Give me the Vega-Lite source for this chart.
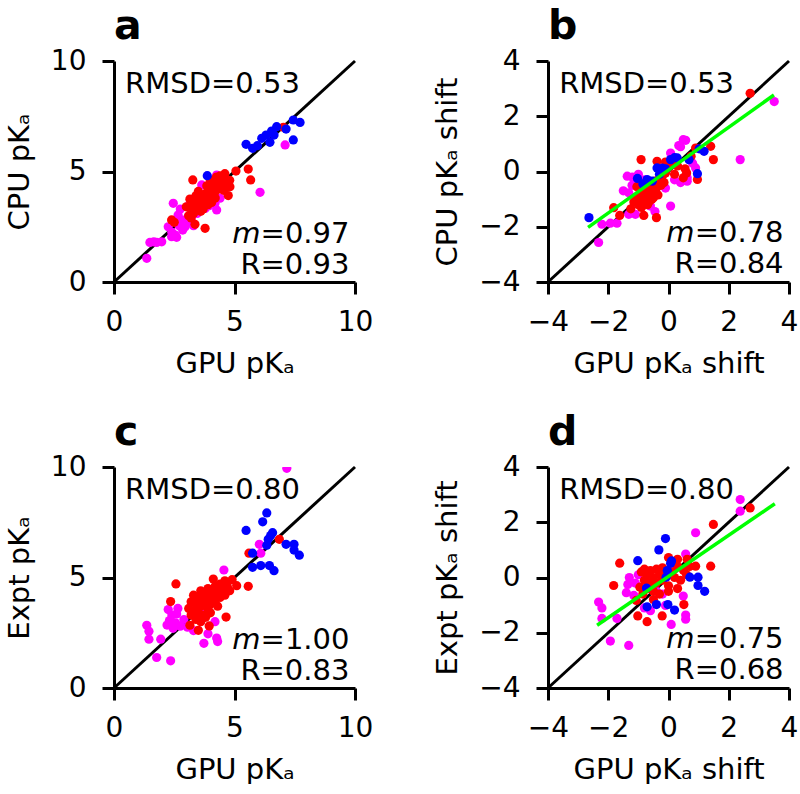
{
  "$schema": "https://vega.github.io/schema/vega-lite/v6.json",
  "padding": {"left": 5, "top": 6, "right": 0, "bottom": 0},
  "config": {
    "font": "DejaVu Sans",
    "view": {"stroke": null},
    "axis": {"domainColor": "black", "domainWidth": 3, "tickColor": "black", "tickWidth": 3, "tickSize": 12, "labelFontSize": 28, "labelColor": "black", "labelPadding": 14, "labelFlush": false, "labelOverlap": false, "labelBound": false, "titleFontSize": 29, "titleFontWeight": "normal", "titleColor": "black", "grid": false},
    "axisX": {"titlePadding": 13},
    "axisY": {"titlePadding": 16, "labelPadding": 16},
    "title": {"anchor": "start", "frame": "group", "fontSize": 41, "fontWeight": "bold", "color": "black", "baseline": "alphabetic", "offset": -1}
  },
  "datasets": {
    "pa": [
      {"x":1.36,"y":1.07,"g":"m"},{"x":1.49,"y":1.79,"g":"m"},{"x":1.65,"y":1.82,"g":"m"},{"x":1.77,"y":1.79,"g":"m"},{"x":1.98,"y":1.82,"g":"m"},{"x":2.39,"y":2.05,"g":"m"},{"x":2.55,"y":2.12,"g":"m"},{"x":2.6,"y":2.02,"g":"m"},{"x":2.46,"y":3.56,"g":"m"},{"x":2.95,"y":2.5,"g":"m"},{"x":2.8,"y":2.81,"g":"m"},{"x":2.66,"y":3.03,"g":"m"},{"x":3.08,"y":2.96,"g":"m"},{"x":3.12,"y":3.48,"g":"m"},{"x":3.57,"y":3.48,"g":"m"},{"x":3.5,"y":3.97,"g":"m"},{"x":3.64,"y":4.39,"g":"m"},{"x":4.26,"y":4.84,"g":"m"},{"x":4.19,"y":3.56,"g":"m"},{"x":4.26,"y":3.26,"g":"m"},{"x":4.4,"y":3.79,"g":"m"},{"x":3.78,"y":3.33,"g":"m"},{"x":6.06,"y":4.06,"g":"m"},{"x":7.1,"y":6.2,"g":"m"},{"x":3.01,"y":2.74,"g":"m"},{"x":2.75,"y":3.3,"g":"m"},{"x":3.3,"y":2.55,"g":"m"},{"x":2.85,"y":2.35,"g":"m"},{"x":3.45,"y":3.1,"g":"m"},{"x":2.4,"y":2.25,"g":"m"},{"x":3.95,"y":3.45,"g":"m"},{"x":4.05,"y":3.75,"g":"m"},{"x":3.2,"y":2.8,"g":"m"},{"x":2.25,"y":2.5,"g":"m"},{"x":4.5,"y":4.2,"g":"m"},{"x":2.7,"y":2.55,"g":"m"},
      {"x":3.27,"y":4.62,"g":"r"},{"x":5.06,"y":5.02,"g":"r"},{"x":5.57,"y":5.11,"g":"r"},{"x":5.67,"y":4.62,"g":"r"},{"x":4.81,"y":4.31,"g":"r"},{"x":4.74,"y":3.91,"g":"r"},{"x":3.78,"y":2.43,"g":"r"},{"x":3.36,"y":2.61,"g":"r"},{"x":2.39,"y":2.81,"g":"r"},{"x":2.5,"y":2.7,"g":"r"},{"x":7.03,"y":7.0,"g":"r"},{"x":4.7,"y":4.6,"g":"r"},{"x":4.55,"y":4.15,"g":"r"},
      {"x":3.1,"y":3.0,"g":"r"},{"x":3.2,"y":3.3,"g":"r"},{"x":3.3,"y":3.1,"g":"r"},{"x":3.4,"y":3.5,"g":"r"},{"x":3.5,"y":3.3,"g":"r"},{"x":3.5,"y":3.7,"g":"r"},{"x":3.6,"y":3.5,"g":"r"},{"x":3.6,"y":3.9,"g":"r"},{"x":3.7,"y":3.6,"g":"r"},{"x":3.7,"y":3.8,"g":"r"},{"x":3.8,"y":4.0,"g":"r"},{"x":3.8,"y":3.7,"g":"r"},{"x":3.9,"y":4.1,"g":"r"},{"x":3.9,"y":3.9,"g":"r"},{"x":4.0,"y":4.2,"g":"r"},{"x":4.0,"y":3.9,"g":"r"},{"x":4.1,"y":4.3,"g":"r"},{"x":4.1,"y":4.0,"g":"r"},{"x":4.2,"y":4.4,"g":"r"},{"x":4.2,"y":4.1,"g":"r"},{"x":4.3,"y":4.5,"g":"r"},{"x":4.3,"y":4.2,"g":"r"},{"x":4.4,"y":4.6,"g":"r"},{"x":4.4,"y":4.3,"g":"r"},{"x":4.5,"y":4.7,"g":"r"},{"x":4.5,"y":4.4,"g":"r"},{"x":4.6,"y":4.5,"g":"r"},{"x":3.4,"y":3.9,"g":"r"},{"x":3.3,"y":3.6,"g":"r"},{"x":3.0,"y":3.4,"g":"r"},{"x":3.6,"y":3.2,"g":"r"},{"x":3.9,"y":3.5,"g":"r"},{"x":4.0,"y":4.6,"g":"r"},{"x":4.2,"y":3.8,"g":"r"},{"x":3.5,"y":4.1,"g":"r"},{"x":4.6,"y":4.9,"g":"r"},{"x":3.2,"y":2.9,"g":"r"},{"x":3.7,"y":3.3,"g":"r"},{"x":4.4,"y":4.8,"g":"r"},{"x":4.8,"y":4.6,"g":"r"},{"x":3.15,"y":3.75,"g":"r"},{"x":4.25,"y":4.75,"g":"r"},{"x":3.85,"y":4.35,"g":"r"},{"x":4.05,"y":3.6,"g":"r"},
      {"x":7.44,"y":7.33,"g":"b"},{"x":7.72,"y":7.22,"g":"b"},{"x":7.14,"y":6.92,"g":"b"},{"x":6.75,"y":7.03,"g":"b"},{"x":6.54,"y":6.83,"g":"b"},{"x":6.31,"y":6.65,"g":"b"},{"x":6.13,"y":6.5,"g":"b"},{"x":6.47,"y":6.32,"g":"b"},{"x":5.95,"y":6.17,"g":"b"},{"x":5.75,"y":6.05,"g":"b"},{"x":5.48,"y":6.23,"g":"b"},{"x":7.44,"y":6.43,"g":"b"},{"x":3.87,"y":4.81,"g":"b"},{"x":6.64,"y":6.65,"g":"b"}
    ],
    "pb": [
      {"x":3.51,"y":2.53,"g":"m"},{"x":2.38,"y":0.43,"g":"m"},{"x":0.57,"y":1.13,"g":"m"},{"x":0.34,"y":0.94,"g":"m"},{"x":0.49,"y":1.15,"g":"m"},{"x":0.07,"y":0.67,"g":"m"},{"x":-2.32,"y":-2.57,"g":"m"},{"x":-2.21,"y":-1.91,"g":"m"},{"x":-1.93,"y":-1.87,"g":"m"},{"x":-1.71,"y":-1.87,"g":"m"},{"x":-1.32,"y":-1.55,"g":"m"},{"x":-1.1,"y":-1.55,"g":"m"},{"x":-1.32,"y":-0.77,"g":"m"},{"x":-1.37,"y":-0.17,"g":"m"},{"x":-1.2,"y":-0.2,"g":"m"},{"x":-1.21,"y":-0.5,"g":"m"},{"x":0.07,"y":-1.25,"g":"m"},{"x":0.62,"y":-0.35,"g":"m"},{"x":0.62,"y":-0.23,"g":"m"},{"x":0.9,"y":0.13,"g":"m"},{"x":-0.6,"y":-1.25,"g":"m"},{"x":-0.1,"y":-0.6,"g":"m"},{"x":0.2,"y":-0.3,"g":"m"},{"x":0.4,"y":-0.4,"g":"m"},{"x":-0.8,"y":-0.3,"g":"m"},{"x":-1.0,"y":-0.1,"g":"m"},{"x":-0.45,"y":-1.45,"g":"m"},{"x":0.4,"y":0.9,"g":"m"},{"x":0.8,"y":0.3,"g":"m"},{"x":-1.5,"y":-0.7,"g":"m"},
      {"x":2.71,"y":2.83,"g":"r"},{"x":-0.91,"y":0.43,"g":"r"},{"x":1.49,"y":0.43,"g":"r"},{"x":1.4,"y":0.91,"g":"r"},{"x":0.9,"y":0.85,"g":"r"},{"x":-1.82,"y":-1.31,"g":"r"},{"x":-1.62,"y":-1.59,"g":"r"},{"x":-0.82,"y":-1.59,"g":"r"},{"x":-0.4,"y":-1.67,"g":"r"},{"x":0.49,"y":-0.23,"g":"r"},{"x":0.6,"y":-0.05,"g":"r"},{"x":0.96,"y":-0.29,"g":"r"},{"x":-0.1,"y":0.34,"g":"r"},{"x":-0.38,"y":0.37,"g":"r"},{"x":0.3,"y":0.2,"g":"r"},{"x":0.55,"y":0.1,"g":"r"},{"x":0.75,"y":0.55,"g":"r"},
      {"x":-1.15,"y":-1.1,"g":"r"},{"x":-1.05,"y":-0.95,"g":"r"},{"x":-1.0,"y":-1.2,"g":"r"},{"x":-0.95,"y":-0.8,"g":"r"},{"x":-0.9,"y":-1.05,"g":"r"},{"x":-0.85,"y":-0.65,"g":"r"},{"x":-0.8,"y":-0.9,"g":"r"},{"x":-0.75,"y":-0.55,"g":"r"},{"x":-0.7,"y":-0.8,"g":"r"},{"x":-0.65,"y":-1.1,"g":"r"},{"x":-0.6,"y":-0.45,"g":"r"},{"x":-0.55,"y":-0.7,"g":"r"},{"x":-0.5,"y":-0.95,"g":"r"},{"x":-0.45,"y":-0.35,"g":"r"},{"x":-0.4,"y":-0.6,"g":"r"},{"x":-0.35,"y":-0.85,"g":"r"},{"x":-0.3,"y":-0.25,"g":"r"},{"x":-0.25,"y":-0.5,"g":"r"},{"x":-0.2,"y":-0.15,"g":"r"},{"x":-0.15,"y":-0.4,"g":"r"},{"x":-0.1,"y":-0.05,"g":"r"},{"x":0.0,"y":0.15,"g":"r"},{"x":-1.25,"y":-1.35,"g":"r"},{"x":-0.9,"y":-1.3,"g":"r"},{"x":-0.7,"y":-1.2,"g":"r"},{"x":-0.55,"y":-1.0,"g":"r"},{"x":0.1,"y":0.25,"g":"r"},{"x":0.2,"y":-0.1,"g":"r"},{"x":-1.05,"y":-0.55,"g":"r"},
      {"x":-2.64,"y":-1.67,"g":"b"},{"x":-1.03,"y":-0.25,"g":"b"},{"x":-0.71,"y":-0.29,"g":"b"},{"x":-0.54,"y":-0.35,"g":"b"},{"x":-0.38,"y":0.13,"g":"b"},{"x":-0.2,"y":0.12,"g":"b"},{"x":-0.1,"y":0.1,"g":"b"},{"x":0.07,"y":0.43,"g":"b"},{"x":0.2,"y":0.5,"g":"b"},{"x":0.29,"y":0.49,"g":"b"},{"x":0.68,"y":0.43,"g":"b"},{"x":1.18,"y":0.73,"g":"b"},{"x":0.96,"y":-0.08,"g":"b"},{"x":1.02,"y":0.82,"g":"b"},{"x":-0.85,"y":-0.45,"g":"b"},{"x":-0.3,"y":-0.1,"g":"b"}
    ],
    "pc": [
      {"x":7.17,"y":9.94,"g":"m"},{"x":6.09,"y":6.1,"g":"m"},{"x":6.03,"y":6.5,"g":"m"},{"x":4.56,"y":5.34,"g":"m"},{"x":1.36,"y":2.84,"g":"m"},{"x":1.45,"y":2.57,"g":"m"},{"x":1.45,"y":2.21,"g":"m"},{"x":1.94,"y":2.21,"g":"m"},{"x":1.77,"y":1.38,"g":"m"},{"x":2.35,"y":1.23,"g":"m"},{"x":3.73,"y":2.02,"g":"m"},{"x":4.26,"y":2.26,"g":"m"},{"x":4.19,"y":3.0,"g":"m"},{"x":2.25,"y":3.55,"g":"m"},{"x":2.4,"y":3.3,"g":"m"},{"x":2.6,"y":3.35,"g":"m"},{"x":2.3,"y":3.05,"g":"m"},{"x":2.55,"y":2.95,"g":"m"},{"x":2.75,"y":2.8,"g":"m"},{"x":2.45,"y":2.7,"g":"m"},{"x":2.9,"y":3.1,"g":"m"},{"x":3.05,"y":2.75,"g":"m"},{"x":2.65,"y":3.6,"g":"m"},{"x":3.4,"y":3.25,"g":"m"},{"x":3.3,"y":2.6,"g":"m"},{"x":3.9,"y":2.45,"g":"m"},{"x":2.2,"y":2.85,"g":"m"},{"x":4.3,"y":2.1,"g":"m"},{"x":3.75,"y":3.5,"g":"m"},
      {"x":2.57,"y":4.71,"g":"r"},{"x":2.35,"y":3.91,"g":"r"},{"x":6.86,"y":6.73,"g":"r"},{"x":5.6,"y":6.1,"g":"r"},{"x":5.57,"y":4.6,"g":"r"},{"x":4.65,"y":3.21,"g":"r"},{"x":3.95,"y":2.81,"g":"r"},{"x":3.5,"y":2.61,"g":"r"},{"x":3.15,"y":2.84,"g":"r"},{"x":5.09,"y":4.63,"g":"r"},{"x":4.12,"y":4.93,"g":"r"},{"x":4.9,"y":4.9,"g":"r"},{"x":4.6,"y":4.85,"g":"r"},
      {"x":3.1,"y":3.6,"g":"r"},{"x":3.2,"y":3.9,"g":"r"},{"x":3.3,"y":4.2,"g":"r"},{"x":3.3,"y":3.5,"g":"r"},{"x":3.4,"y":3.8,"g":"r"},{"x":3.5,"y":4.1,"g":"r"},{"x":3.5,"y":3.4,"g":"r"},{"x":3.6,"y":3.7,"g":"r"},{"x":3.6,"y":4.4,"g":"r"},{"x":3.7,"y":4.0,"g":"r"},{"x":3.7,"y":3.3,"g":"r"},{"x":3.8,"y":3.9,"g":"r"},{"x":3.8,"y":4.3,"g":"r"},{"x":3.9,"y":3.6,"g":"r"},{"x":3.9,"y":4.5,"g":"r"},{"x":4.0,"y":4.1,"g":"r"},{"x":4.0,"y":3.8,"g":"r"},{"x":4.1,"y":4.4,"g":"r"},{"x":4.2,"y":4.0,"g":"r"},{"x":4.2,"y":4.6,"g":"r"},{"x":4.3,"y":4.3,"g":"r"},{"x":4.4,"y":4.7,"g":"r"},{"x":4.4,"y":4.1,"g":"r"},{"x":4.5,"y":4.5,"g":"r"},{"x":4.6,"y":4.2,"g":"r"},{"x":4.7,"y":4.6,"g":"r"},{"x":4.8,"y":4.4,"g":"r"},{"x":3.4,"y":3.1,"g":"r"},{"x":3.2,"y":3.3,"g":"r"},{"x":3.6,"y":3.0,"g":"r"},{"x":4.0,"y":3.4,"g":"r"},{"x":3.8,"y":3.2,"g":"r"},{"x":4.3,"y":3.7,"g":"r"},
      {"x":6.34,"y":7.92,"g":"b"},{"x":6.17,"y":7.52,"g":"b"},{"x":5.48,"y":7.13,"g":"b"},{"x":6.58,"y":7.03,"g":"b"},{"x":6.4,"y":6.73,"g":"b"},{"x":6.34,"y":6.46,"g":"b"},{"x":7.14,"y":6.5,"g":"b"},{"x":7.47,"y":6.5,"g":"b"},{"x":7.47,"y":6.24,"g":"b"},{"x":7.69,"y":6.01,"g":"b"},{"x":5.75,"y":6.1,"g":"b"},{"x":5.75,"y":5.46,"g":"b"},{"x":6.09,"y":5.54,"g":"b"},{"x":6.45,"y":5.54,"g":"b"},{"x":6.64,"y":5.31,"g":"b"},{"x":6.5,"y":6.9,"g":"b"}
    ],
    "pd": [
      {"x":2.38,"y":2.82,"g":"m"},{"x":2.38,"y":2.4,"g":"m"},{"x":0.9,"y":1.62,"g":"m"},{"x":0.57,"y":0.85,"g":"m"},{"x":-2.32,"y":-0.89,"g":"m"},{"x":-2.21,"y":-1.1,"g":"m"},{"x":-2.21,"y":-1.48,"g":"m"},{"x":-1.71,"y":-1.48,"g":"m"},{"x":-1.93,"y":-2.3,"g":"m"},{"x":-1.32,"y":-2.46,"g":"m"},{"x":-1.3,"y":0.0,"g":"m"},{"x":-1.35,"y":-0.25,"g":"m"},{"x":-1.4,"y":-0.55,"g":"m"},{"x":-1.15,"y":-0.65,"g":"m"},{"x":0.49,"y":-0.67,"g":"m"},{"x":0.57,"y":-1.36,"g":"m"},{"x":0.57,"y":-1.51,"g":"m"},{"x":0.09,"y":-1.7,"g":"m"},{"x":-0.1,"y":-1.01,"g":"m"},{"x":-0.4,"y":-0.5,"g":"m"},{"x":-1.1,"y":-0.2,"g":"m"},{"x":-0.2,"y":-0.6,"g":"m"},{"x":-0.8,"y":-1.1,"g":"m"},{"x":-0.6,"y":-1.2,"g":"m"},{"x":0.2,"y":0.3,"g":"m"},{"x":-1.0,"y":0.1,"g":"m"},
      {"x":2.71,"y":2.52,"g":"r"},{"x":1.49,"y":1.92,"g":"r"},{"x":-1.62,"y":0.52,"g":"r"},{"x":-1.82,"y":-0.29,"g":"r"},{"x":-1.02,"y":-1.39,"g":"r"},{"x":-0.71,"y":-1.6,"g":"r"},{"x":-0.21,"y":-1.39,"g":"r"},{"x":0.51,"y":-0.98,"g":"r"},{"x":1.4,"y":0.41,"g":"r"},{"x":0.9,"y":0.41,"g":"r"},{"x":0.0,"y":0.72,"g":"r"},{"x":0.3,"y":0.66,"g":"r"},{"x":0.62,"y":0.66,"g":"r"},{"x":-1.07,"y":-0.83,"g":"r"},
      {"x":-0.9,"y":0.2,"g":"r"},{"x":-0.8,"y":-0.1,"g":"r"},{"x":-0.8,"y":0.3,"g":"r"},{"x":-0.7,"y":0.1,"g":"r"},{"x":-0.7,"y":-0.4,"g":"r"},{"x":-0.6,"y":0.25,"g":"r"},{"x":-0.6,"y":-0.2,"g":"r"},{"x":-0.5,"y":0.0,"g":"r"},{"x":-0.5,"y":-0.5,"g":"r"},{"x":-0.4,"y":0.3,"g":"r"},{"x":-0.4,"y":-0.2,"g":"r"},{"x":-0.3,"y":0.1,"g":"r"},{"x":-0.3,"y":-0.6,"g":"r"},{"x":-0.2,"y":0.35,"g":"r"},{"x":-0.2,"y":-0.1,"g":"r"},{"x":-0.1,"y":0.05,"g":"r"},{"x":0.0,"y":-0.3,"g":"r"},{"x":0.1,"y":0.2,"g":"r"},{"x":0.2,"y":0.0,"g":"r"},{"x":0.3,"y":0.4,"g":"r"},{"x":0.4,"y":-0.1,"g":"r"},{"x":0.5,"y":0.25,"g":"r"},{"x":0.6,"y":0.1,"g":"r"},{"x":0.7,"y":0.4,"g":"r"},{"x":-0.85,"y":-0.6,"g":"r"},{"x":0.0,"y":-0.5,"g":"r"},{"x":0.3,"y":-0.4,"g":"r"},{"x":-0.5,"y":-0.8,"g":"r"},{"x":-0.95,"y":-0.35,"g":"r"},
      {"x":-0.1,"y":1.41,"g":"b"},{"x":-0.32,"y":1.0,"g":"b"},{"x":-1.02,"y":0.61,"g":"b"},{"x":0.07,"y":0.52,"g":"b"},{"x":-0.04,"y":0.25,"g":"b"},{"x":-0.08,"y":0.01,"g":"b"},{"x":0.71,"y":0.01,"g":"b"},{"x":0.98,"y":0.01,"g":"b"},{"x":0.98,"y":-0.29,"g":"b"},{"x":1.2,"y":-0.5,"g":"b"},{"x":-0.73,"y":-0.38,"g":"b"},{"x":-0.71,"y":-1.06,"g":"b"},{"x":-0.4,"y":-0.98,"g":"b"},{"x":-0.02,"y":-0.98,"g":"b"},{"x":0.2,"y":-1.18,"g":"b"},{"x":0.1,"y":0.6,"g":"b"}
    ]
  },
  "columns": 2,
  "spacing": {"row": 185, "column": 193},
  "bounds": "flush",
  "concat": [
    {
      "width": 241, "height": 221,
      "title": {"text": "a"},
      "layer": [
        {"data": {"values": [{}]}, "mark": {"type": "rule", "color": "black", "strokeWidth": 3},
         "encoding": {"x": {"datum": 0, "type": "quantitative", "scale": {"domain": [0, 10], "nice": false, "zero": false}, "axis": {"values": [0, 5, 10], "title": "GPU pKₐ"}}, "y": {"datum": 0, "type": "quantitative", "scale": {"domain": [0, 10], "nice": false, "zero": false}, "axis": {"values": [0, 5, 10], "title": "CPU pKₐ"}}, "x2": {"datum": 10}, "y2": {"datum": 10}}},
        {"data": {"name": "pa"}, "mark": {"type": "circle", "size": 85, "opacity": 1, "clip": true},
         "encoding": {
           "x": {"field": "x", "type": "quantitative", "axis": {"values": [0, 5, 10], "title": "GPU pKₐ"}},
           "y": {"field": "y", "type": "quantitative", "axis": {"values": [0, 5, 10], "title": "CPU pKₐ"}},
           "color": {"field": "g", "type": "nominal", "scale": {"domain": ["m", "r", "b"], "range": ["#ff00ff", "#ff0000", "#0000ff"]}, "legend": null}}},
        {"data": {"values": [{}]}, "mark": {"type": "text", "text": "RMSD=0.53", "align": "left", "baseline": "alphabetic", "fontSize": 29, "color": "black"},
         "encoding": {"x": {"datum": 0.46, "type": "quantitative", "axis": {"values": [0, 5, 10], "title": "GPU pKₐ"}}, "y": {"datum": 8.55, "type": "quantitative", "axis": {"values": [0, 5, 10], "title": "CPU pKₐ"}}}},
        {"data": {"values": [{}]}, "mark": {"type": "text", "text": "=0.97", "align": "right", "baseline": "alphabetic", "fontSize": 29, "color": "black"},
         "encoding": {"x": {"datum": 9.77, "type": "quantitative", "axis": {"values": [0, 5, 10], "title": "GPU pKₐ"}}, "y": {"datum": 1.76, "type": "quantitative", "axis": {"values": [0, 5, 10], "title": "CPU pKₐ"}}}},
        {"data": {"values": [{}]}, "mark": {"type": "text", "text": "m", "align": "right", "baseline": "alphabetic", "fontSize": 29, "fontStyle": "italic", "dx": -89, "color": "black"},
         "encoding": {"x": {"datum": 9.77, "type": "quantitative", "axis": {"values": [0, 5, 10], "title": "GPU pKₐ"}}, "y": {"datum": 1.76, "type": "quantitative", "axis": {"values": [0, 5, 10], "title": "CPU pKₐ"}}}},
        {"data": {"values": [{}]}, "mark": {"type": "text", "text": "R=0.93", "align": "right", "baseline": "alphabetic", "fontSize": 29, "color": "black"},
         "encoding": {"x": {"datum": 9.77, "type": "quantitative", "axis": {"values": [0, 5, 10], "title": "GPU pKₐ"}}, "y": {"datum": 0.36, "type": "quantitative", "axis": {"values": [0, 5, 10], "title": "CPU pKₐ"}}}}
      ]
    },
    {
      "width": 241, "height": 221,
      "title": {"text": "b"},
      "layer": [
        {"data": {"values": [{}]}, "mark": {"type": "rule", "color": "black", "strokeWidth": 3},
         "encoding": {"x": {"datum": -4, "type": "quantitative", "scale": {"domain": [-4, 4], "nice": false, "zero": false}, "axis": {"values": [-4, -2, 0, 2, 4], "title": "GPU pKₐ shift"}}, "y": {"datum": -4, "type": "quantitative", "scale": {"domain": [-4, 4], "nice": false, "zero": false}, "axis": {"values": [-4, -2, 0, 2, 4], "title": "CPU pKₐ shift"}}, "x2": {"datum": 4}, "y2": {"datum": 4}}},
        {"data": {"name": "pb"}, "mark": {"type": "circle", "size": 85, "opacity": 1, "clip": true},
         "encoding": {
           "x": {"field": "x", "type": "quantitative", "axis": {"values": [-4, -2, 0, 2, 4], "title": "GPU pKₐ shift"}},
           "y": {"field": "y", "type": "quantitative", "axis": {"values": [-4, -2, 0, 2, 4], "title": "CPU pKₐ shift"}},
           "color": {"field": "g", "type": "nominal", "scale": {"domain": ["m", "r", "b"], "range": ["#ff00ff", "#ff0000", "#0000ff"]}, "legend": null}}},
        {"data": {"values": [{}]}, "mark": {"type": "rule", "color": "#00ff00", "strokeWidth": 3.5},
         "encoding": {"x": {"datum": -2.67, "type": "quantitative", "axis": {"values": [-4, -2, 0, 2, 4], "title": "GPU pKₐ shift"}}, "y": {"datum": -2.02, "type": "quantitative", "axis": {"values": [-4, -2, 0, 2, 4], "title": "CPU pKₐ shift"}}, "x2": {"datum": 3.5}, "y2": {"datum": 2.77}}},
        {"data": {"values": [{}]}, "mark": {"type": "text", "text": "RMSD=0.53", "align": "left", "baseline": "alphabetic", "fontSize": 29, "color": "black"},
         "encoding": {"x": {"datum": -3.63, "type": "quantitative", "axis": {"values": [-4, -2, 0, 2, 4], "title": "GPU pKₐ shift"}}, "y": {"datum": 2.85, "type": "quantitative", "axis": {"values": [-4, -2, 0, 2, 4], "title": "CPU pKₐ shift"}}}},
        {"data": {"values": [{}]}, "mark": {"type": "text", "text": "=0.78", "align": "right", "baseline": "alphabetic", "fontSize": 29, "color": "black"},
         "encoding": {"x": {"datum": 3.82, "type": "quantitative", "axis": {"values": [-4, -2, 0, 2, 4], "title": "GPU pKₐ shift"}}, "y": {"datum": -2.56, "type": "quantitative", "axis": {"values": [-4, -2, 0, 2, 4], "title": "CPU pKₐ shift"}}}},
        {"data": {"values": [{}]}, "mark": {"type": "text", "text": "m", "align": "right", "baseline": "alphabetic", "fontSize": 29, "fontStyle": "italic", "dx": -89, "color": "black"},
         "encoding": {"x": {"datum": 3.82, "type": "quantitative", "axis": {"values": [-4, -2, 0, 2, 4], "title": "GPU pKₐ shift"}}, "y": {"datum": -2.56, "type": "quantitative", "axis": {"values": [-4, -2, 0, 2, 4], "title": "CPU pKₐ shift"}}}},
        {"data": {"values": [{}]}, "mark": {"type": "text", "text": "R=0.84", "align": "right", "baseline": "alphabetic", "fontSize": 29, "color": "black"},
         "encoding": {"x": {"datum": 3.82, "type": "quantitative", "axis": {"values": [-4, -2, 0, 2, 4], "title": "GPU pKₐ shift"}}, "y": {"datum": -3.68, "type": "quantitative", "axis": {"values": [-4, -2, 0, 2, 4], "title": "CPU pKₐ shift"}}}}
      ]
    },
    {
      "width": 241, "height": 221,
      "title": {"text": "c"},
      "layer": [
        {"data": {"values": [{}]}, "mark": {"type": "rule", "color": "black", "strokeWidth": 3},
         "encoding": {"x": {"datum": 0, "type": "quantitative", "scale": {"domain": [0, 10], "nice": false, "zero": false}, "axis": {"values": [0, 5, 10], "title": "GPU pKₐ"}}, "y": {"datum": 0, "type": "quantitative", "scale": {"domain": [0, 10], "nice": false, "zero": false}, "axis": {"values": [0, 5, 10], "title": "Expt pKₐ"}}, "x2": {"datum": 10}, "y2": {"datum": 10}}},
        {"data": {"name": "pc"}, "mark": {"type": "circle", "size": 85, "opacity": 1, "clip": true},
         "encoding": {
           "x": {"field": "x", "type": "quantitative", "axis": {"values": [0, 5, 10], "title": "GPU pKₐ"}},
           "y": {"field": "y", "type": "quantitative", "axis": {"values": [0, 5, 10], "title": "Expt pKₐ"}},
           "color": {"field": "g", "type": "nominal", "scale": {"domain": ["m", "r", "b"], "range": ["#ff00ff", "#ff0000", "#0000ff"]}, "legend": null}}},
        {"data": {"values": [{}]}, "mark": {"type": "text", "text": "RMSD=0.80", "align": "left", "baseline": "alphabetic", "fontSize": 29, "color": "black"},
         "encoding": {"x": {"datum": 0.46, "type": "quantitative", "axis": {"values": [0, 5, 10], "title": "GPU pKₐ"}}, "y": {"datum": 8.55, "type": "quantitative", "axis": {"values": [0, 5, 10], "title": "Expt pKₐ"}}}},
        {"data": {"values": [{}]}, "mark": {"type": "text", "text": "=1.00", "align": "right", "baseline": "alphabetic", "fontSize": 29, "color": "black"},
         "encoding": {"x": {"datum": 9.77, "type": "quantitative", "axis": {"values": [0, 5, 10], "title": "GPU pKₐ"}}, "y": {"datum": 1.76, "type": "quantitative", "axis": {"values": [0, 5, 10], "title": "Expt pKₐ"}}}},
        {"data": {"values": [{}]}, "mark": {"type": "text", "text": "m", "align": "right", "baseline": "alphabetic", "fontSize": 29, "fontStyle": "italic", "dx": -89, "color": "black"},
         "encoding": {"x": {"datum": 9.77, "type": "quantitative", "axis": {"values": [0, 5, 10], "title": "GPU pKₐ"}}, "y": {"datum": 1.76, "type": "quantitative", "axis": {"values": [0, 5, 10], "title": "Expt pKₐ"}}}},
        {"data": {"values": [{}]}, "mark": {"type": "text", "text": "R=0.83", "align": "right", "baseline": "alphabetic", "fontSize": 29, "color": "black"},
         "encoding": {"x": {"datum": 9.77, "type": "quantitative", "axis": {"values": [0, 5, 10], "title": "GPU pKₐ"}}, "y": {"datum": 0.36, "type": "quantitative", "axis": {"values": [0, 5, 10], "title": "Expt pKₐ"}}}}
      ]
    },
    {
      "width": 241, "height": 221,
      "title": {"text": "d"},
      "layer": [
        {"data": {"values": [{}]}, "mark": {"type": "rule", "color": "black", "strokeWidth": 3},
         "encoding": {"x": {"datum": -4, "type": "quantitative", "scale": {"domain": [-4, 4], "nice": false, "zero": false}, "axis": {"values": [-4, -2, 0, 2, 4], "title": "GPU pKₐ shift"}}, "y": {"datum": -4, "type": "quantitative", "scale": {"domain": [-4, 4], "nice": false, "zero": false}, "axis": {"values": [-4, -2, 0, 2, 4], "title": "Expt pKₐ shift"}}, "x2": {"datum": 4}, "y2": {"datum": 4}}},
        {"data": {"name": "pd"}, "mark": {"type": "circle", "size": 85, "opacity": 1, "clip": true},
         "encoding": {
           "x": {"field": "x", "type": "quantitative", "axis": {"values": [-4, -2, 0, 2, 4], "title": "GPU pKₐ shift"}},
           "y": {"field": "y", "type": "quantitative", "axis": {"values": [-4, -2, 0, 2, 4], "title": "Expt pKₐ shift"}},
           "color": {"field": "g", "type": "nominal", "scale": {"domain": ["m", "r", "b"], "range": ["#ff00ff", "#ff0000", "#0000ff"]}, "legend": null}}},
        {"data": {"values": [{}]}, "mark": {"type": "rule", "color": "#00ff00", "strokeWidth": 3.5},
         "encoding": {"x": {"datum": -2.37, "type": "quantitative", "axis": {"values": [-4, -2, 0, 2, 4], "title": "GPU pKₐ shift"}}, "y": {"datum": -1.73, "type": "quantitative", "axis": {"values": [-4, -2, 0, 2, 4], "title": "Expt pKₐ shift"}}, "x2": {"datum": 3.53}, "y2": {"datum": 2.67}}},
        {"data": {"values": [{}]}, "mark": {"type": "text", "text": "RMSD=0.80", "align": "left", "baseline": "alphabetic", "fontSize": 29, "color": "black"},
         "encoding": {"x": {"datum": -3.63, "type": "quantitative", "axis": {"values": [-4, -2, 0, 2, 4], "title": "GPU pKₐ shift"}}, "y": {"datum": 2.85, "type": "quantitative", "axis": {"values": [-4, -2, 0, 2, 4], "title": "Expt pKₐ shift"}}}},
        {"data": {"values": [{}]}, "mark": {"type": "text", "text": "=0.75", "align": "right", "baseline": "alphabetic", "fontSize": 29, "color": "black"},
         "encoding": {"x": {"datum": 3.82, "type": "quantitative", "axis": {"values": [-4, -2, 0, 2, 4], "title": "GPU pKₐ shift"}}, "y": {"datum": -2.56, "type": "quantitative", "axis": {"values": [-4, -2, 0, 2, 4], "title": "Expt pKₐ shift"}}}},
        {"data": {"values": [{}]}, "mark": {"type": "text", "text": "m", "align": "right", "baseline": "alphabetic", "fontSize": 29, "fontStyle": "italic", "dx": -89, "color": "black"},
         "encoding": {"x": {"datum": 3.82, "type": "quantitative", "axis": {"values": [-4, -2, 0, 2, 4], "title": "GPU pKₐ shift"}}, "y": {"datum": -2.56, "type": "quantitative", "axis": {"values": [-4, -2, 0, 2, 4], "title": "Expt pKₐ shift"}}}},
        {"data": {"values": [{}]}, "mark": {"type": "text", "text": "R=0.68", "align": "right", "baseline": "alphabetic", "fontSize": 29, "color": "black"},
         "encoding": {"x": {"datum": 3.82, "type": "quantitative", "axis": {"values": [-4, -2, 0, 2, 4], "title": "GPU pKₐ shift"}}, "y": {"datum": -3.68, "type": "quantitative", "axis": {"values": [-4, -2, 0, 2, 4], "title": "Expt pKₐ shift"}}}}
      ]
    }
  ]
}
